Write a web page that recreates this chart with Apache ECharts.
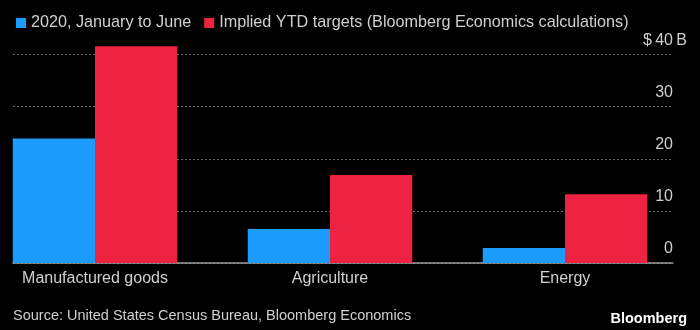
<!DOCTYPE html>
<html>
<head>
<meta charset="utf-8">
<style>
  html, body { margin: 0; padding: 0; background: #000; }
  #chart { width: 700px; height: 330px; }
</style>
<script src="https://cdn.jsdelivr.net/npm/echarts@6/dist/echarts.min.js"></script>
</head>
<body>
<div id="chart"></div>
<script>
// data ($ billions)
var categories = ["Manufactured goods", "Agriculture", "Energy"];
var firstHalf2020 = [23.9, 6.5, 2.9];
var ytdTargets = [41.6, 16.9, 13.2];
var yTicks = [0, 10, 20, 30, 40];

var seriesNames = ["2020, January to June", "Implied YTD targets (Bloomberg Economics calculations)"];
var FONT = "Liberation Sans, Arial, sans-serif";
var TEXT = "#cfcfcf";

var chart = echarts.init(document.getElementById("chart"));

var option = {
  backgroundColor: "#000",
  animation: false,
  textStyle: { fontFamily: FONT },
  title: [
    {
      text: "Source: United States Census Bureau, Bloomberg Economics",
      left: 8, top: 303,
      textStyle: { color: TEXT, fontSize: 14.5, fontWeight: "normal", fontFamily: FONT }
    },
    {
      text: "Bloomberg",
      right: 8, top: 306,
      textStyle: { color: "#fff", fontSize: 14.5, fontWeight: "bold", fontFamily: FONT }
    }
  ],
  legend: {
    left: 11, top: 10,
    itemWidth: 10, itemHeight: 10, itemGap: 13,
    icon: "rect",
    textStyle: { color: TEXT, fontSize: 16.2, fontFamily: FONT },
    data: seriesNames
  },
  grid: [
    // bars: wider than the gridlines, taller so the top bar can pass $40B
    { left: -22.5, right: 17.5, top: 2.4, bottom: 67, outerBoundsMode: "none", containLabel: false },
    // gridlines, labels, baseline
    { left: 13, right: 27, top: 54.5, bottom: 67, outerBoundsMode: "none", containLabel: false }
  ],
  xAxis: [
    {
      gridIndex: 0, type: "category", data: categories,
      axisLine: { show: false }, axisTick: { show: false },
      axisLabel: { color: TEXT, fontSize: 16, margin: 8, fontFamily: FONT }
    },
    {
      gridIndex: 1, type: "category", data: [""],
      axisLine: { show: true, lineStyle: { color: "#9a9a9a", width: 1.5 } },
      axisTick: { show: false }, axisLabel: { show: false }
    }
  ],
  yAxis: [
    {
      gridIndex: 0, type: "value", min: 0, max: 50, interval: 10,
      show: false, splitLine: { show: false }
    },
    {
      gridIndex: 1, type: "value", position: "right",
      min: yTicks[0], max: yTicks[yTicks.length - 1], interval: 10,
      axisLine: { show: false }, axisTick: { show: false },
      splitLine: { show: true, lineStyle: { color: "#6a6a6a", type: [2, 2], width: 1 } },
      axisLabel: {
        inside: true, margin: 0, verticalAlign: "bottom",
        color: TEXT, fontSize: 16, lineHeight: 16, padding: [0, 0, 6, 0],
        formatter: function (v) {
          return v === 40 ? "{a|$\u200940}{b|\u2009B}" : String(v);
        },
        rich: {
          a: { color: TEXT, fontSize: 16, fontFamily: FONT, align: "left" },
          b: { color: TEXT, fontSize: 16, fontFamily: FONT, align: "left", width: 0 }
        }
      }
    }
  ],
  series: [
    {
      name: seriesNames[0], type: "bar", xAxisIndex: 0, yAxisIndex: 0,
      data: firstHalf2020, barGap: 0, barCategoryGap: "30%",
      itemStyle: { color: "#1b9bfc" }
    },
    {
      name: seriesNames[1], type: "bar", xAxisIndex: 0, yAxisIndex: 0,
      data: ytdTargets, barGap: 0, barCategoryGap: "30%",
      itemStyle: { color: "#ee2241" }
    }
  ]
};

chart.setOption(option);
</script>
</body>
</html>
